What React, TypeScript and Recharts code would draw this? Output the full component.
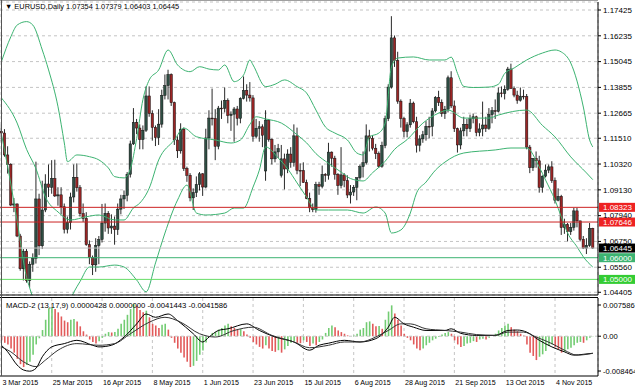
import React from 'react';
import { ComposedChart, Bar, Line, XAxis, YAxis, CartesianGrid, ReferenceLine, Cell } from 'recharts';

// ---------- categories / ticks ----------
const tickIdx = [0, 16, 32, 48, 64, 80, 96, 112, 128, 144, 160, 176];
const tickLabels = ['3 Mar 2015', '25 Mar 2015', '16 Apr 2015', '8 May 2015', '1 Jun 2015', '23 Jun 2015', '15 Jul 2015', '6 Aug 2015', '28 Aug 2015', '21 Sep 2015', '13 Oct 2015', '4 Nov 2015'];
const priceTicks = [1.17425, 1.16235, 1.15045, 1.13855, 1.12665, 1.1151, 1.1032, 1.0913, 1.0794, 1.0675, 1.0556, 1.04405];
const macdTicks = [0.007586, 0, -0.008464];

// ---------- daily OHLC (3 Mar 2015 .. 20 Nov 2015) ----------
const opens = [
  1.1183, 1.1175, 1.1074, 1.1031, 1.0843, 1.0848, 1.0700, 1.0549, 1.0630, 1.0494,
  1.0570, 1.0597, 1.0871, 1.0655, 1.0820, 1.0940, 1.0925, 1.0965, 1.0885, 1.0890,
  1.0835, 1.0731, 1.0762, 1.0880, 1.0971, 1.0923, 1.0803, 1.0781, 1.0660, 1.0600,
  1.0567, 1.0656, 1.0684, 1.0760, 1.0805, 1.0737, 1.0746, 1.0730, 1.0824, 1.0871,
  1.0888, 1.0985, 1.1125, 1.1224, 1.1198, 1.1145, 1.1188, 1.1346, 1.1265, 1.1201,
  1.1154, 1.1216, 1.1349, 1.1394, 1.1445, 1.1315, 1.1143, 1.1093, 1.1193, 1.1012,
  1.0980, 1.0876, 1.0900, 1.0937, 1.0987, 1.0926, 1.1152, 1.1244, 1.1242, 1.1114,
  1.1290, 1.1289, 1.1325, 1.1256, 1.1262, 1.1286, 1.1243, 1.1334, 1.1372, 1.1350,
  1.1337, 1.1160, 1.1197, 1.1204, 1.1000, 1.1235, 1.1146, 1.1056, 1.1088, 1.0980,
  1.1056, 1.1009, 1.1078, 1.1040, 1.1162, 1.1003, 1.1002, 1.0947, 1.0873, 1.0830,
  1.0822, 1.0937, 1.0929, 1.0984, 1.0980, 1.1087, 1.1059, 1.0985, 1.0933, 1.0982,
  1.0955, 1.0889, 1.0903, 1.0925, 1.0969, 1.1020, 1.1038, 1.1162, 1.1150, 1.1105,
  1.1080, 1.1022, 1.1117, 1.1241, 1.1387, 1.1614, 1.1509, 1.1322, 1.1242, 1.1182,
  1.1213, 1.1313, 1.1227, 1.1119, 1.1148, 1.1167, 1.1206, 1.1205, 1.1277, 1.1339,
  1.1316, 1.1265, 1.1285, 1.1430, 1.1300, 1.1195, 1.1120, 1.1185, 1.1215, 1.1195,
  1.1242, 1.1250, 1.1177, 1.1194, 1.1212, 1.1197, 1.1260, 1.1278, 1.1275, 1.1360,
  1.1357, 1.1377, 1.1470, 1.1380, 1.1350, 1.1326, 1.1345, 1.1343, 1.1110, 1.1015,
  1.1058, 1.1047, 1.0924, 1.0976, 1.1004, 1.1019, 1.0956, 1.0865, 1.0883, 1.0739,
  1.0753, 1.0720, 1.0740, 1.0816, 1.0770, 1.0685, 1.0644, 1.0657, 1.07354,
];
const highs = [
  1.1213, 1.1193, 1.1114, 1.1036, 1.0875, 1.0850, 1.0710, 1.0640, 1.0640, 1.0583,
  1.0620, 1.1043, 1.0895, 1.0955, 1.0985, 1.1030, 1.1050, 1.1052, 1.0925, 1.0925,
  1.0850, 1.0790, 1.0900, 1.1030, 1.1035, 1.0935, 1.0850, 1.0810, 1.0680, 1.0610,
  1.0690, 1.0700, 1.0848, 1.0850, 1.0815, 1.0800, 1.0790, 1.0850, 1.0890, 1.0910,
  1.0995, 1.1140, 1.1290, 1.1240, 1.1215, 1.1210, 1.1390, 1.1390, 1.1280, 1.1210,
  1.1285, 1.1375, 1.1445, 1.1467, 1.1450, 1.1320, 1.1160, 1.1220, 1.1200, 1.1020,
  1.0990, 1.0920, 1.0975, 1.0995, 1.0990, 1.1195, 1.1280, 1.1380, 1.1285, 1.1300,
  1.1325, 1.1385, 1.1335, 1.1275, 1.1295, 1.1300, 1.1340, 1.1436, 1.1400, 1.1410,
  1.1350, 1.1240, 1.1230, 1.1215, 1.1280, 1.1240, 1.1150, 1.1120, 1.1125, 1.1120,
  1.1080, 1.1100, 1.1110, 1.1215, 1.1200, 1.1035, 1.1040, 1.0960, 1.0900, 1.0850,
  1.0950, 1.0950, 1.1025, 1.0990, 1.1130, 1.1090, 1.1070, 1.0990, 1.1110, 1.0990,
  1.0980, 1.0935, 1.0935, 1.0970, 1.1030, 1.1090, 1.1215, 1.1190, 1.1165, 1.1125,
  1.1090, 1.1135, 1.1255, 1.1400, 1.1714, 1.1625, 1.1550, 1.1330, 1.1250, 1.1225,
  1.1332, 1.1320, 1.1250, 1.1165, 1.1185, 1.1230, 1.1250, 1.1290, 1.1345, 1.1370,
  1.1330, 1.1300, 1.1440, 1.1460, 1.1325, 1.1200, 1.1200, 1.1250, 1.1240, 1.1260,
  1.1265, 1.1255, 1.1220, 1.1320, 1.1250, 1.1290, 1.1295, 1.1330, 1.1385, 1.1390,
  1.1395, 1.1480, 1.1495, 1.1390, 1.1370, 1.1385, 1.1375, 1.1355, 1.1120, 1.1060,
  1.1090, 1.1070, 1.0980, 1.1030, 1.1030, 1.1045, 1.0970, 1.0920, 1.0890, 1.0780,
  1.0760, 1.0760, 1.0830, 1.0830, 1.0770, 1.0700, 1.0690, 1.0760, 1.07379,
];
const lows = [
  1.1136, 1.1066, 1.0988, 1.0838, 1.0810, 1.0695, 1.0540, 1.0495, 1.0485, 1.0462,
  1.0535, 1.0573, 1.0612, 1.0640, 1.0810, 1.0880, 1.0895, 1.0880, 1.0840, 1.0800,
  1.0712, 1.0712, 1.0730, 1.0855, 1.0905, 1.0790, 1.0765, 1.0655, 1.0570, 1.0520,
  1.0535, 1.0570, 1.0670, 1.0720, 1.0710, 1.0710, 1.0660, 1.0705, 1.0800, 1.0825,
  1.0860, 1.0970, 1.1120, 1.1170, 1.1100, 1.1100, 1.1180, 1.1250, 1.1140, 1.1115,
  1.1120, 1.1200, 1.1330, 1.1330, 1.1300, 1.1120, 1.1060, 1.1080, 1.1000, 1.0950,
  1.0860, 1.0820, 1.0880, 1.0910, 1.0885, 1.0920, 1.1100, 1.1210, 1.1050, 1.1100,
  1.1240, 1.1270, 1.1220, 1.1185, 1.1135, 1.1210, 1.1220, 1.1330, 1.1320, 1.1320,
  1.1135, 1.1150, 1.1135, 1.1110, 1.0955, 1.1135, 1.1030, 1.1040, 1.1060, 1.0970,
  1.0915, 1.0990, 1.1015, 1.1020, 1.0985, 1.0930, 1.0945, 1.0870, 1.0810, 1.0810,
  1.0808, 1.0890, 1.0920, 1.0950, 1.0960, 1.1020, 1.0960, 1.0890, 1.0920, 1.0925,
  1.0875, 1.0850, 1.0885, 1.0865, 1.0960, 1.0970, 1.1030, 1.1090, 1.1095, 1.1055,
  1.1015, 1.1015, 1.1105, 1.1230, 1.1380, 1.1480, 1.1310, 1.1200, 1.1155, 1.1155,
  1.1200, 1.1220, 1.1085, 1.1090, 1.1130, 1.1140, 1.1150, 1.1160, 1.1270, 1.1300,
  1.1250, 1.1240, 1.1270, 1.1290, 1.1180, 1.1085, 1.1100, 1.1160, 1.1160, 1.1180,
  1.1220, 1.1160, 1.1160, 1.1160, 1.1180, 1.1190, 1.1220, 1.1240, 1.1270, 1.1340,
  1.1330, 1.1370, 1.1380, 1.1340, 1.1310, 1.1320, 1.1330, 1.1100, 1.0990, 1.1000,
  1.1015, 1.0900, 1.0900, 1.0970, 1.0990, 1.0945, 1.0850, 1.0860, 1.0705, 1.0710,
  1.0675, 1.0705, 1.0725, 1.0740, 1.0675, 1.0640, 1.0617, 1.0650, 1.06403,
];
const closes = [
  1.1175, 1.1074, 1.1031, 1.0843, 1.0848, 1.0700, 1.0549, 1.0630, 1.0494, 1.0570,
  1.0597, 1.0871, 1.0655, 1.0820, 1.0940, 1.0925, 1.0965, 1.0885, 1.0890, 1.0835,
  1.0731, 1.0762, 1.0880, 1.0971, 1.0923, 1.0803, 1.0781, 1.0660, 1.0600, 1.0567,
  1.0656, 1.0684, 1.0760, 1.0805, 1.0737, 1.0746, 1.0730, 1.0824, 1.0871, 1.0888,
  1.0985, 1.1125, 1.1224, 1.1198, 1.1145, 1.1188, 1.1346, 1.1265, 1.1201, 1.1154,
  1.1216, 1.1349, 1.1394, 1.1445, 1.1315, 1.1143, 1.1093, 1.1193, 1.1012, 1.0980,
  1.0876, 1.0900, 1.0937, 1.0987, 1.0926, 1.1152, 1.1244, 1.1242, 1.1114, 1.1290,
  1.1289, 1.1325, 1.1256, 1.1262, 1.1286, 1.1243, 1.1334, 1.1372, 1.1350, 1.1337,
  1.1160, 1.1197, 1.1204, 1.1165, 1.1235, 1.1146, 1.1056, 1.1088, 1.1103, 1.1056,
  1.1009, 1.1078, 1.1040, 1.1162, 1.1003, 1.1002, 1.0947, 1.0873, 1.0830, 1.0822,
  1.0937, 1.0929, 1.0984, 1.0980, 1.1087, 1.1059, 1.0985, 1.0933, 1.0982, 1.0955,
  1.0889, 1.0903, 1.0925, 1.0969, 1.1020, 1.1038, 1.1162, 1.1150, 1.1105, 1.1080,
  1.1022, 1.1117, 1.1241, 1.1387, 1.1614, 1.1509, 1.1322, 1.1242, 1.1182, 1.1213,
  1.1313, 1.1227, 1.1119, 1.1148, 1.1167, 1.1206, 1.1205, 1.1277, 1.1339, 1.1316,
  1.1265, 1.1285, 1.1430, 1.1300, 1.1195, 1.1120, 1.1185, 1.1215, 1.1195, 1.1242,
  1.1250, 1.1177, 1.1194, 1.1212, 1.1197, 1.1260, 1.1278, 1.1275, 1.1360, 1.1357,
  1.1377, 1.1470, 1.1380, 1.1350, 1.1326, 1.1345, 1.1343, 1.1110, 1.1015, 1.1058,
  1.1047, 1.0924, 1.0976, 1.1004, 1.1019, 1.0956, 1.0865, 1.0883, 1.0739, 1.0753,
  1.0720, 1.0740, 1.0816, 1.0770, 1.0685, 1.0644, 1.0657, 1.0735, 1.06445,
];

// ---------- Bollinger bands (read at sample bars) ----------
const bbUpIdx = [0, 3, 5, 8, 10, 13, 15, 18, 20, 21, 24, 28, 31, 34, 36, 39, 41, 43, 45, 47, 50, 53, 56, 60, 63, 66, 69, 71, 74, 77, 79, 80, 84, 87, 90, 94, 97, 100, 103, 106, 110, 113, 115, 117, 120, 122, 124, 126, 131, 136, 141, 143, 145, 147, 150, 155, 158, 160, 163, 167, 172, 176, 178, 181, 185, 187, 188];
const bbUpVal = [1.1504, 1.1619, 1.1673, 1.1689, 1.1673, 1.1558, 1.1466, 1.1296, 1.1129, 1.1043, 1.1074, 1.1066, 1.1051, 1.1014, 1.0974, 1.0968, 1.1010, 1.1150, 1.1330, 1.1420, 1.1466, 1.1558, 1.1489, 1.1458, 1.1481, 1.1470, 1.1466, 1.1489, 1.1412, 1.1443, 1.1512, 1.1489, 1.1389, 1.1400, 1.1420, 1.1389, 1.1360, 1.1281, 1.1203, 1.1175, 1.1143, 1.1083, 1.1074, 1.1157, 1.1175, 1.1221, 1.1480, 1.1521, 1.1526, 1.1512, 1.1512, 1.1525, 1.1450, 1.1390, 1.1385, 1.1387, 1.1400, 1.1450, 1.1475, 1.1512, 1.1544, 1.1558, 1.1549, 1.1498, 1.1295, 1.1143, 1.1111];
const bbMidIdx = [0, 5, 8, 11, 14, 18, 22, 27, 31, 36, 39, 42, 44, 47, 50, 55, 58, 62, 68, 73, 76, 79, 81, 84, 89, 94, 97, 100, 104, 108, 111, 115, 118, 122, 125, 129, 134, 139, 142, 147, 155, 158, 167, 172, 176, 181, 186, 188];
const bbMidVal = [1.1337, 1.1221, 1.1100, 1.1010, 1.0880, 1.0811, 1.0774, 1.0789, 1.0797, 1.0774, 1.0774, 1.0830, 1.0852, 1.0921, 1.1051, 1.1143, 1.1198, 1.1158, 1.1143, 1.1129, 1.1143, 1.1215, 1.1250, 1.1240, 1.1221, 1.1167, 1.1130, 1.1080, 1.1035, 1.0995, 1.0965, 1.0954, 1.0992, 1.1045, 1.1100, 1.1145, 1.1221, 1.1267, 1.1281, 1.1244, 1.1244, 1.1258, 1.1281, 1.1210, 1.1157, 1.1065, 1.0991, 1.0960];
const bbLoIdx = [0, 2, 3, 5, 8, 9, 11, 14, 17, 20, 23, 25, 28, 31, 36, 39, 43, 46, 49, 52, 56, 59, 62, 65, 71, 74, 77, 80, 82, 84, 88, 91, 94, 97, 100, 104, 110, 115, 119, 122, 124, 127, 130, 132, 135, 138, 141, 147, 157, 162, 167, 171, 173, 176, 178, 180, 183, 185, 188];
const bbLoVal = [1.1170, 1.1020, 1.0940, 1.0770, 1.0510, 1.0460, 1.0380, 1.0330, 1.0310, 1.0340, 1.0440, 1.0490, 1.0557, 1.0557, 1.0566, 1.0557, 1.0497, 1.0443, 1.0576, 1.0714, 1.0866, 1.0935, 1.0806, 1.0797, 1.0806, 1.0829, 1.0829, 1.0926, 1.1004, 1.1111, 1.1060, 1.1010, 1.0945, 1.0880, 1.0820, 1.0820, 1.0820, 1.0806, 1.0834, 1.0806, 1.0714, 1.0728, 1.0806, 1.0899, 1.0949, 1.1004, 1.1041, 1.1083, 1.1097, 1.1106, 1.1106, 1.1018, 1.0958, 1.0866, 1.0788, 1.0714, 1.0650, 1.0604, 1.0557];

// ---------- MACD-2 (13,17,9) ----------
const macdHist = [
  -0.0010, -0.0016, -0.0020, -0.0030, -0.0040, -0.0055, -0.0068, -0.0075, -0.0070, -0.0062,
  -0.0045, -0.0020, -0.0005, 0.0015, 0.0040, 0.0068, 0.0070, 0.0066, 0.0058, 0.0048,
  0.0038, 0.0034, 0.0040, 0.0042, 0.0036, 0.0024, 0.0012, 0.0004, -0.0008, -0.0014,
  -0.0018, -0.0012, -0.0004, 0.0006, 0.0010, 0.0009, 0.0010, 0.0018, 0.0030, 0.0040,
  0.0052, 0.0066, 0.0078, 0.0074, 0.0064, 0.0058, 0.0062, 0.0046, 0.0030, 0.0026,
  0.0020, 0.0028, 0.0030, 0.0016, -0.0004, -0.0016, -0.0030, -0.0040, -0.0052, -0.0062,
  -0.0075, -0.0072, -0.0060, -0.0045, -0.0035, -0.0015, -0.0002, 0.0008, 0.0010, 0.0016,
  0.0020, 0.0026, 0.0030, 0.0024, 0.0020, 0.0016, 0.0017, 0.0012, 0.0004, -0.0004,
  -0.0014, -0.0020, -0.0026, -0.0030, -0.0022, -0.0030, -0.0036, -0.0038, -0.0034, -0.0040,
  -0.0032, -0.0024, -0.0016, -0.0012, -0.0016, -0.0017, -0.0010, -0.0014, -0.0024, -0.0018,
  -0.0022, -0.0014, -0.0008, 0.0008, 0.0020, 0.0026, 0.0022, 0.0014, 0.0010, 0.0006,
  0.0002, 0.0000, 0.0002, 0.0006, 0.0016, 0.0020, 0.0034, 0.0036, 0.0030, 0.0024,
  0.0025, 0.0018, 0.0040, 0.0060, 0.0075, 0.0055, 0.0040, 0.0026, 0.0006, -0.0004,
  -0.0010, -0.0020, -0.0030, -0.0034, -0.0030, -0.0022, -0.0016, -0.0010, -0.0006, -0.0002,
  0.0004, 0.0008, 0.0010, 0.0006, -0.0010, -0.0020, -0.0026, -0.0024, -0.0018, -0.0016,
  -0.0012, -0.0014, -0.0008, -0.0006, -0.0008, -0.0004, 0.0000, 0.0006, 0.0014, 0.0020,
  0.0026, 0.0030, 0.0022, 0.0016, 0.0012, 0.0006, 0.0002, -0.0020, -0.0040, -0.0048,
  -0.0058, -0.0050, -0.0044, -0.0036, -0.0024, -0.0020, -0.0026, -0.0032, -0.0040, -0.0038,
  -0.0032, -0.0028, -0.0022, -0.0016, -0.0014, -0.0016, -0.0010, -0.0004, 0.0000428,
];
const macdIdx = [0, 2, 5, 7, 9, 11, 13, 16, 20, 24, 29, 31, 35, 39, 43, 46, 49, 53, 56, 61, 64, 66, 69, 72, 78, 82, 87, 93, 98, 101, 104, 109, 114, 119, 123, 125, 128, 131, 135, 141, 143, 146, 151, 157, 161, 164, 167, 171, 175, 179, 182, 185, 188];
const macdVal = [-0.0022, -0.0038, -0.0070, -0.0082, -0.0085, -0.0078, -0.0050, -0.0026, -0.0018, -0.0010, -0.0022, -0.0026, -0.0022, -0.0002, 0.0030, 0.0054, 0.0046, 0.0054, 0.0038, 0.0006, -0.0014, -0.0002, 0.0014, 0.0018, 0.0030, 0.0014, -0.0002, -0.0014, -0.0034, -0.0022, -0.0017, -0.0010, -0.0014, -0.0006, 0.0022, 0.0046, 0.0030, 0.0022, 0.0014, 0.0014, 0.0018, 0.0007, 0.0002, 0.0002, 0.0014, 0.0015, 0.0010, -0.0010, -0.0026, -0.0038, -0.0046, -0.0044, -0.0041443];
const sigIdx = [0, 3, 7, 11, 14, 18, 24, 31, 36, 41, 47, 52, 57, 63, 68, 74, 80, 86, 93, 98, 104, 109, 114, 119, 123, 127, 130, 135, 141, 146, 151, 157, 161, 166, 170, 175, 179, 183, 188];
const sigVal = [-0.0026, -0.0038, -0.0062, -0.0074, -0.0058, -0.0034, -0.0018, -0.0022, -0.0018, 0.0006, 0.0034, 0.0046, 0.0034, 0.0006, -0.0002, 0.0014, 0.0022, 0.0002, -0.0014, -0.0028, -0.0022, -0.0014, -0.0014, -0.0002, 0.0014, 0.0030, 0.0030, 0.0018, 0.0014, 0.0010, 0.0004, 0.0002, 0.0010, 0.0010, -0.0002, -0.0018, -0.0034, -0.0046, -0.0041586];

// ---------- horizontal levels ----------
const levels = [
  { v: 1.08323, line: '#cc2222', box: '#ee2222', text: '#ffffff' },
  { v: 1.07646, line: '#cc2222', box: '#ee2222', text: '#ffffff' },
  { v: 1.06445, line: '#c0c0c0', box: '#000000', text: '#ffffff' },
  { v: 1.06, line: '#3cb371', box: '#3cb371', text: '#ffffff' },
  { v: 1.05, line: '#66dd66', box: '#33cc33', text: '#ffffff' },
];

const FONT = '"Liberation Sans", Arial, sans-serif';
const W = 635;
const H = 391;
const AXIS_W = 37;
const X_DOMAIN: [number, number] = [-0.445, 189.66];
const Y_DOMAIN: [number, number] = [1.0428, 1.17794];
const M_DOMAIN: [number, number] = [-0.009672, 0.009288];
const BULL = '#2f4f44';
const BEAR = '#9b2525';
const HIST_UP = '#72cc72';
const HIST_DN = '#e25a5a';
const BAND = '#3cb371';

const rows = closes.map((c, i) => ({
  i,
  range: [lows[i], highs[i]],
  o: opens[i],
  h: highs[i],
  l: lows[i],
  c,
  hist: macdHist[i],
} as any));
bbUpIdx.forEach((k, j) => { rows[k].up = bbUpVal[j]; });
bbMidIdx.forEach((k, j) => { rows[k].mid = bbMidVal[j]; });
bbLoIdx.forEach((k, j) => { rows[k].lo = bbLoVal[j]; });
macdIdx.forEach((k, j) => { rows[k].macd = macdVal[j]; });
sigIdx.forEach((k, j) => { rows[k].sig = sigVal[j]; });

const Candle = (props: any) => {
  const { x, y, width, height, payload } = props;
  if (x == null || y == null) return null;
  const { o, c, h, l } = payload;
  const top = Math.min(y, y + height);
  const hh = Math.abs(height);
  const span = h - l || 1e-9;
  const k = hh / span;
  const cx = x + width / 2;
  const yO = top + (h - o) * k;
  const yC = top + (h - c) * k;
  const bull = c >= o;
  const bt = Math.min(yO, yC);
  const bh = Math.max(Math.abs(yO - yC), 0.8);
  const bw = 2.4;
  return (
    <g>
      <line x1={cx} x2={cx} y1={top} y2={top + hh} stroke="#111" strokeWidth={0.9} />
      <rect x={cx - bw / 2} y={bt} width={bw} height={bh} fill={bull ? BULL : BEAR} stroke="#111" strokeWidth={0.5} />
    </g>
  );
};

const PriceTag = (props: any) => {
  const { viewBox, value, box, text } = props;
  if (!viewBox) return null;
  const x = viewBox.x + viewBox.width;
  const y = viewBox.y;
  return (
    <g>
      <rect x={x + 1} y={y - 4.5} width={AXIS_W - 1} height={9} fill={box} />
      <text x={x + 5} y={y + 3} fontSize={8} fontFamily={FONT} fill={text}>{value}</text>
    </g>
  );
};

const DateTick = (props: any) => {
  const { x, y, payload } = props;
  const k = tickIdx.indexOf(payload.value);
  return (
    <text x={x + 1} y={y + 7} fontSize={7.1} fontFamily={FONT} fill="#000" textAnchor="start">
      {k >= 0 ? tickLabels[k] : ''}
    </text>
  );
};

const fmtMacd = (v: number) => (v === 0 ? '0.00' : v.toFixed(6));

export default function App() {
  return (
    <div style={{ position: 'absolute', left: 0, top: 0, width: W, height: H, background: '#fff', overflow: 'hidden', fontFamily: FONT }}>
      {/* main price panel */}
      <div style={{ position: 'absolute', left: 0, top: 0 }}>
        <ComposedChart width={W} height={H} data={rows} margin={{ top: 2, right: 0, bottom: 95, left: 0 }}>
          <CartesianGrid stroke="#c4c4c4" strokeDasharray="3 3" />
          <XAxis dataKey="i" type="number" domain={X_DOMAIN} ticks={tickIdx} interval={0} tick={false} tickLine={false} axisLine={{ stroke: '#000' }} height={1} allowDataOverflow />
          <YAxis orientation="right" type="number" domain={Y_DOMAIN} ticks={priceTicks} width={AXIS_W} interval={0} tickSize={3} tickMargin={2}
            tickLine={{ stroke: '#000' }} axisLine={{ stroke: '#000' }} allowDataOverflow
            tick={{ fontSize: 8, fill: '#000', fontFamily: FONT }} tickFormatter={(v: number) => v.toFixed(5)} />
          <Line dataKey="up" type="monotone" stroke={BAND} strokeWidth={1} dot={false} connectNulls isAnimationActive={false} />
          <Line dataKey="mid" type="monotone" stroke={BAND} strokeWidth={1} dot={false} connectNulls isAnimationActive={false} />
          <Line dataKey="lo" type="monotone" stroke={BAND} strokeWidth={1} dot={false} connectNulls isAnimationActive={false} />
          {levels.map((lv) => (
            <ReferenceLine key={lv.v} y={lv.v} stroke={lv.line} strokeWidth={1}
              label={(p: any) => <PriceTag {...p} value={lv.v.toFixed(5)} box={lv.box} text={lv.text} />} />
          ))}
          <Bar dataKey="range" barSize={3} shape={<Candle />} isAnimationActive={false} />
        </ComposedChart>
      </div>
      {/* MACD panel */}
      <div style={{ position: 'absolute', left: 0, top: 0 }}>
        <ComposedChart width={W} height={H} data={rows} margin={{ top: 298, right: 0, bottom: 0, left: 0 }}>
          <CartesianGrid stroke="#c4c4c4" strokeDasharray="3 3" horizontal={false} />
          <XAxis dataKey="i" type="number" domain={X_DOMAIN} ticks={tickIdx} interval={0} tickLine={false} tickSize={0} axisLine={{ stroke: '#000' }} height={15} allowDataOverflow tick={<DateTick />} />
          <YAxis orientation="right" type="number" domain={M_DOMAIN} ticks={macdTicks} width={AXIS_W} interval={0} tickSize={3} tickMargin={2}
            tickLine={{ stroke: '#000' }} axisLine={{ stroke: '#000' }} allowDataOverflow
            tick={{ fontSize: 7.6, fill: '#000', fontFamily: FONT }} tickFormatter={fmtMacd} />
          <ReferenceLine y={0} stroke="#c4c4c4" strokeDasharray="3 3" />
          <Bar dataKey="hist" barSize={1.6} isAnimationActive={false}>
            {rows.map((r: any, k: number) => (
              <Cell key={k} fill={k > 0 && r.hist >= macdHist[k - 1] ? HIST_UP : HIST_DN} />
            ))}
          </Bar>
          <Line dataKey="macd" type="monotone" stroke="#000" strokeWidth={1} dot={false} connectNulls isAnimationActive={false} />
          <Line dataKey="sig" type="monotone" stroke="#333" strokeWidth={1} dot={false} connectNulls isAnimationActive={false} />
        </ComposedChart>
      </div>
      {/* frame lines */}
      <div style={{ position: 'absolute', left: 0, top: 0, width: 598, height: 1, background: '#a0a0a0' }} />
      <div style={{ position: 'absolute', left: 0, top: 297, width: 598, height: 1, background: '#000' }} />
      <div style={{ position: 'absolute', left: 1, top: 0, width: 1, height: 376, background: '#555' }} />
      {/* headers */}
      <div style={{ position: 'absolute', left: 5, top: 1, fontSize: 7.4, lineHeight: '11px', color: '#000', whiteSpace: 'pre' }}>
        {'▼ EURUSD,Daily 1.07354 1.07379 1.06403 1.06445'}
      </div>
      <div style={{ position: 'absolute', left: 6, top: 300, fontSize: 7.7, lineHeight: '11px', color: '#000', whiteSpace: 'pre' }}>
        {'MACD-2 (13,17,9) 0.0000428 0.0000000 -0.0041443 -0.0041586'}
      </div>
    </div>
  );
}
